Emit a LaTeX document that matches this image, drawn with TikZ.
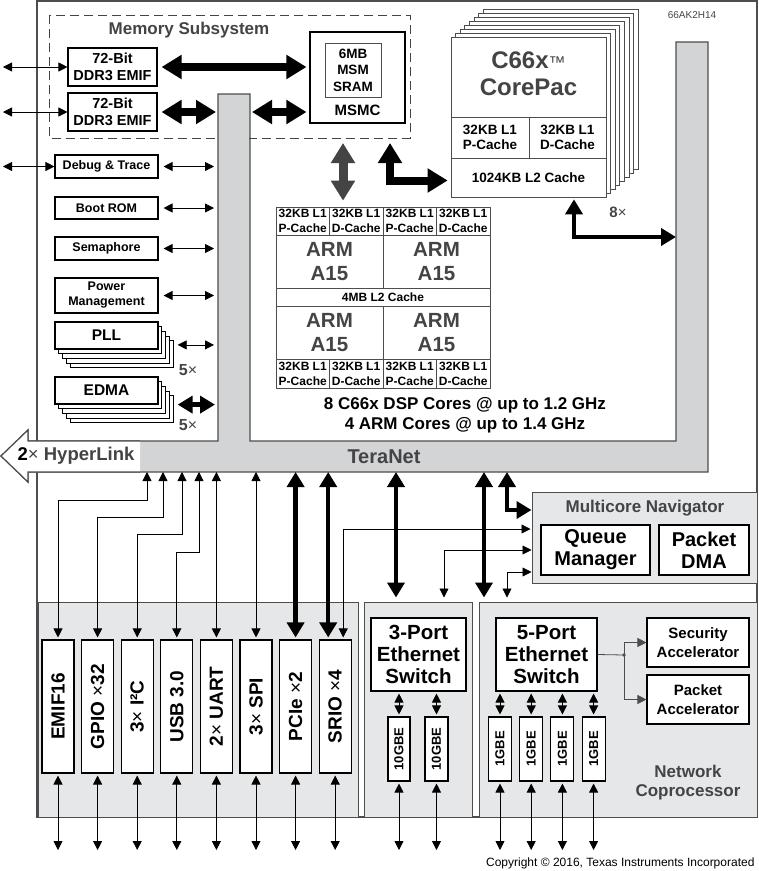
\documentclass[tikz,border=0pt]{standalone}
\usepackage{fontspec}
\setmainfont{Liberation Sans}
\usetikzlibrary{arrows.meta,positioning}
\definecolor{tigray}{HTML}{444444}
\definecolor{edgegray}{HTML}{4D4D4D}
\definecolor{busgray}{HTML}{D3D4D6}
\definecolor{panelgray}{HTML}{E6E7E8}
\newcommand{\tifont}[2]{\fontsize{#1}{#2}\selectfont\bfseries}
\newcommand{\tix}{{\mdseries ×}}
\tikzset{
  blk/.style={draw=black, line width=1.1pt, fill=white, align=center, inner sep=0pt},
  cell/.style={draw=edgegray, line width=0.7pt, fill=white, align=center, inner sep=0pt},
  stackbox/.style={draw=edgegray, line width=0.7pt, fill=white, inner sep=0pt},
  panel/.style={draw=edgegray, line width=1pt, fill=panelgray, inner sep=0pt},
  sig/.style={line width=0.8pt, >={Triangle[length=9pt,width=9pt]}},
  bus/.style={line width=4.5pt, >={Triangle[length=15pt,width=17pt]}},
  fatbus/.style={line width=8pt, >={Triangle[length=20pt,width=23pt]}},
}

\begin{document}
\begin{tikzpicture}[x=1pt, y=-1pt]
  \useasboundingbox (0,0) rectangle (759,871);
  \fill[white] (0,0) rectangle (759,871);
  % chip
  \draw[edgegray, line width=1.5pt, fill=white] (37,1) rectangle (757,817);
  \node[font=\fontsize{10}{12}\selectfont, text=tigray] (partno) at (692,15) {66AK2H14};
  \coordinate (barLw) at (218,94);
  \coordinate (barLe) at (250,94);
  \coordinate (barRw) at (676,42);
  \coordinate (busS) at (0,472);
  \coordinate (pinrow) at (0,850);

  % TeraNet + HyperLink
  \path[fill=busgray, draw=edgegray, line width=1.2pt] (1,456) -- (28,430) -- (28,441) -- (218,441) -- (218,94) -- (250,94) -- (250,441) -- (676,441) -- (676,42) -- (708,42) -- (708,472) -- (28,472) -- (28,482) -- cycle;
  \fill[white] (1,456) -- (28,430) -- (28,441) -- (140,441) -- (140,472) -- (28,472) -- (28,482) -- cycle;
  \draw[edgegray, line width=1.2pt] (140,441) -- (28,441) -- (28,430) -- (1,456) -- (28,482) -- (28,472) -- (140,472);
  \node[font=\tifont{18.5}{20}, text=tigray] (hyper) at (76,456) {{\color{black}2}\tix\ HyperLink};
  \node[font=\tifont{20}{22}, text=tigray] (teranet) at (384,457) {TeraNet};

  % Memory Subsystem
  \draw[tigray, line width=1pt, dash pattern=on 9pt off 5pt] (49,15) rectangle (410,138);
  \fill[busgray] (218.6,130) rectangle (249.4,146);
  \node[font=\tifont{17}{20}, text=tigray] (memt) at (189,30) {Memory Subsystem};
  \node[blk, font=\tifont{14.5}{17}, minimum width=89pt, minimum height=38pt] (ddra) at (112.5,67) {72-Bit\\DDR3 EMIF};
  \node[blk, font=\tifont{14.5}{17}, minimum width=89pt, minimum height=38pt] (ddrb) at (112.5,112) {72-Bit\\DDR3 EMIF};
  \node[blk, minimum width=95pt, minimum height=91pt] (msmc) at (357.5,77.5) {};
  \node[cell, font=\tifont{13.5}{16.5}, minimum width=56pt, minimum height=54pt] (sram) at (353,70) {6MB\\MSM\\SRAM};
  \node[font=\tifont{15}{18}] (msmct) at (357.5,110) {MSMC};
  \coordinate (ddrapin) at (3,67);
  \coordinate (ddrbpin) at (3,112);
  \draw[sig,<->] (ddrapin) -- (ddra.west);
  \draw[sig,<->] (ddrbpin) -- (ddrb.west);
  \draw[fatbus,<->] ([xshift=4pt]ddra.east) -- ([xshift=-3pt]ddra.east -| msmc.west);
  \draw[fatbus,<->] ([xshift=4pt]ddrb.east) -- ([xshift=-2pt]ddrb.east -| barLw);
  \draw[fatbus,<->] ([xshift=2pt]ddrb.east -| barLe) -- ([xshift=-3pt]ddrb.east -| msmc.west);

  % left column
  \node[blk, font=\tifont{12.5}{15}, minimum width=103pt, minimum height=23pt] (dbg) at (106.5,166.5) {Debug \& Trace};
  \node[blk, font=\tifont{12.5}{15}, minimum width=103pt, minimum height=22pt] (boot) at (106.5,208) {Boot ROM};
  \node[blk, font=\tifont{12.5}{15}, minimum width=103pt, minimum height=23pt] (sema) at (106.5,248.5) {Semaphore};
  \node[blk, font=\tifont{12.5}{15}, minimum width=103pt, minimum height=35pt] (pwr) at (106.5,295.5) {Power\\Management};
  \foreach \k in {4,3,2,1} {
    \node[stackbox, draw=black, line width=0.9pt, minimum width=103pt, minimum height=27pt] (pll\k) at ({106.5+3.8*\k},{335.5+4.7*\k}) {};
    \node[stackbox, draw=black, line width=0.9pt, minimum width=103pt, minimum height=27pt] (edma\k) at ({106.5+3.8*\k},{390.5+4.7*\k}) {};
  }
  \node[blk, font=\tifont{15.5}{18}, minimum width=103pt, minimum height=27pt] (pll) at (106.5,335.5) {PLL};
  \node[blk, font=\tifont{15.5}{18}, minimum width=103pt, minimum height=27pt] (edma) at (106.5,390.5) {EDMA};
  \node[font=\tifont{16}{17}, text=tigray] (pllx) at (188,370) {5\tix};
  \node[font=\tifont{16}{17}, text=tigray] (edmax) at (188,425) {5\tix};
  \coordinate (dbgpin) at (3,166.5);
  \draw[sig,<->] (dbgpin) -- (dbg.west);
  \foreach \nm in {dbg,boot,sema,pwr}
    \draw[sig,<->] ([xshift=5pt]\nm.east) -- ([xshift=-4pt]\nm.east -| barLw);
  \draw[sig,<->] ([xshift=4pt]pll4.east |- pll2.east) -- ([xshift=-4pt]pll2.east -| barLw);
  \draw[bus,<->] ([xshift=4pt]edma4.east |- edma3.east) -- ([xshift=-3pt]edma3.east -| barLw);

  % C66x CorePac stack
  \foreach \k in {7,6,...,1}
    \node[stackbox, minimum width=155pt, minimum height=160pt] (core\k) at ({528.5+4.6*\k},{117-3.9*\k}) {};
  \node[cell, line width=0.9pt, minimum width=155pt, minimum height=160pt] (core) at (528.5,117) {};
  \node[font=\tifont{24}{27}, text=tigray, align=center] (coret) at (528.5,74) {C66x{\mdseries\fontsize{17}{17}\selectfont ™}\\CorePac};
  \node[cell, font=\tifont{13.5}{15}, minimum width=78pt, minimum height=41pt] (cl1p) at (490,137.5) {32KB L1\\P-Cache};
  \node[cell, font=\tifont{13.5}{15}, minimum width=77pt, minimum height=41pt] (cl1d) at (567.5,137.5) {32KB L1\\D-Cache};
  \node[cell, font=\tifont{13.5}{15}, minimum width=155pt, minimum height=39pt] (cl2) at (528.5,177.5) {1024KB L2 Cache};
  \node[font=\tifont{15}{16}, text=tigray] (corex) at (618,212) {8\tix};
  \draw[bus,<->, shorten <=2pt] ([xshift=45.5pt]cl2.south) |- (barRw |- 0,237);

  % ARM A15 cluster
  \foreach \i/\t in {0/P,1/D,2/P,3/D} {
    \node[cell, font=\tifont{12}{15}, minimum width=53.5pt, minimum height=28pt] (armt\i) at ({302.75+53.5*\i},221) {32KB L1\\\t-Cache};
    \node[cell, font=\tifont{12}{15}, minimum width=53.5pt, minimum height=29pt] (armb\i) at ({302.75+53.5*\i},373.5) {32KB L1\\\t-Cache};
  }
  \node[cell, font=\tifont{20.5}{24}, text=tigray, minimum width=107pt, minimum height=53pt] (arm1) at (329.5,261.5) {ARM\\A15};
  \node[cell, font=\tifont{20.5}{24}, text=tigray, minimum width=107pt, minimum height=53pt] (arm2) at (436.5,261.5) {ARM\\A15};
  \node[cell, font=\tifont{12}{14}, minimum width=214pt, minimum height=18pt] (arml2) at (383,297) {4MB L2 Cache};
  \node[cell, font=\tifont{20.5}{24}, text=tigray, minimum width=107pt, minimum height=53pt] (arm3) at (329.5,332.5) {ARM\\A15};
  \node[cell, font=\tifont{20.5}{24}, text=tigray, minimum width=107pt, minimum height=53pt] (arm4) at (436.5,332.5) {ARM\\A15};
  \node[font=\tifont{17}{20}, align=center] (cores) at (465,415) {8 C66x DSP Cores @ up to 1.2 GHz\\4 ARM Cores @ up to 1.4 GHz};
  \coordinate (msmcarm) at (343,143);
  \coordinate (msmccore) at (390,143);
  \draw[fatbus,<->, draw=tigray, line width=9pt, shorten >=6pt] (msmcarm) -- (msmcarm |- armt0.north);
  \draw[fatbus,<->] (msmccore) |- ([shift={(-3,3)}]cl2.west);

  % bottom panels
  \node[panel, minimum width=320pt, minimum height=215pt] (perp) at (198,709.5) {};
  \node[panel, minimum width=108pt, minimum height=215pt] (tp) at (418,709.5) {};
  \node[panel, minimum width=278pt, minimum height=215pt] (ncp) at (618,709.5) {};
  \node[panel, minimum width=225pt, minimum height=91pt] (mcn) at (644.5,537.5) {};
  \node[font=\tifont{17}{20}, text=tigray] (mcnt) at (645,508) {Multicore Navigator};
  \node[blk, font=\tifont{20}{22}, minimum width=109pt, minimum height=50pt] (qm) at (595.5,550) {Queue\\Manager};
  \node[blk, font=\tifont{20}{22}, minimum width=90pt, minimum height=50pt] (pdma) at (704,550) {Packet\\DMA};

  % peripherals
  \foreach \nm/\txt [count=\i from 0] in {emif/EMIF16, gpio/GPIO \tix32, iic/3\tix\ I²C, usb/USB 3.0, uart/2\tix\ UART, spi/3\tix\ SPI, pcie/PCIe \tix2, srio/SRIO \tix4}
    \node[blk, font=\tifont{19}{22}, minimum width=32pt, minimum height=133pt] (\nm) at ({58+39.6*\i},706.5) {\rotatebox{90}{\txt}};
  \draw[sig,<->, shorten >=2pt] (147,0 |- busS) -- (147,500) -| (emif.north);
  \draw[sig,<->, shorten >=2pt] (163,0 |- busS) -- (163,517) -| (gpio.north);
  \draw[sig,<->, shorten >=2pt] (182,0 |- busS) -- (182,534) -| (iic.north);
  \draw[sig,<->, shorten >=2pt] (199,0 |- busS) -- (199,552) -| (usb.north);
  \draw[sig,<->, shorten >=2pt] (uart.north |- busS) -- (uart.north);
  \draw[sig,<->, shorten >=2pt] (spi.north |- busS) -- (spi.north);
  \draw[bus,<->, shorten >=2pt] (pcie.north |- busS) -- (pcie.north);
  \draw[bus,<->, shorten >=2pt] ([xshift=-7pt]srio.north |- busS) -- ([xshift=-7pt]srio.north);
  \draw[sig,<->, shorten <=2pt, shorten >=1pt] ([xshift=8pt]srio.north) |- (mcn.west |- 0,529);

  % Ethernet switches
  \node[blk, font=\tifont{20.5}{22}, minimum width=95pt, minimum height=73pt] (sw3) at (418.5,654.5) {3-Port\\Ethernet\\Switch};
  \node[blk, font=\tifont{13}{15}, minimum width=22pt, minimum height=64pt] (g10a) at (399,749) {\rotatebox{90}{10GBE}};
  \node[blk, font=\tifont{13}{15}, minimum width=23pt, minimum height=64pt] (g10b) at (436.5,749) {\rotatebox{90}{10GBE}};
  \node[blk, font=\tifont{20.5}{22}, minimum width=101pt, minimum height=73pt] (sw5) at (546.5,654.5) {5-Port\\Ethernet\\Switch};
  \foreach \nm [count=\i from 0] in {ga,gb,gc,gd}
    \node[blk, font=\tifont{13}{15}, minimum width=23pt, minimum height=64pt] (\nm) at ({500+31.2*\i},749) {\rotatebox{90}{1GBE}};
  \node[blk, font=\tifont{15}{19}, minimum width=102pt, minimum height=49pt] (sa) at (698,642.5) {Security\\Accelerator};
  \node[blk, font=\tifont{15}{19}, minimum width=102pt, minimum height=49pt] (pa) at (698,699.5) {Packet\\Accelerator};
  \node[font=\tifont{17}{19}, text=tigray, align=center] (ncpt) at (688,782.5) {Network\\Coprocessor};
  \foreach \nm in {g10a,g10b}
    \draw[sig,<->, shorten <=2pt, shorten >=2pt] (\nm.north |- sw3.south) -- (\nm.north);
  \foreach \nm in {ga,gb,gc,gd}
    \draw[sig,<->, shorten <=2pt, shorten >=2pt] (\nm.north |- sw5.south) -- (\nm.north);
  \coordinate (accsplit) at (624,655);
  \draw[sig, edgegray] (sw5.east) -- (accsplit);
  \fill[edgegray] (accsplit) circle (1.8pt);
  \draw[sig,->, edgegray] (accsplit) |- (sa.west);
  \draw[sig,->, edgegray] (accsplit) |- (pa.west);

  % TeraNet / Multicore Navigator links
  \draw[bus,<->, shorten >=4pt] (396,0 |- busS) -- (396,0 |- tp.north);
  \draw[bus,<->, shorten >=4pt] (484,0 |- busS) -- (484,0 |- ncp.north);
  \draw[bus,<->] (507,0 |- busS) |- (mcn.west |- 0,510);
  \draw[sig,<->, shorten >=4pt] (mcn.west |- 0,550) -| ([xshift=26pt]tp.north);
  \draw[sig,<->, shorten >=4pt] (mcn.west |- 0,572) -| (507,0 |- ncp.north);

  % pins
  \foreach \nm in {emif,gpio,iic,usb,uart,spi,pcie,srio,g10a,g10b,ga,gb,gc,gd}
    \draw[sig,<->] ([yshift=-2pt]\nm.south) -- (\nm.south |- pinrow);
  \node[anchor=east, font=\fontsize{12}{14}\selectfont] (copyr) at (758,863) {Copyright © 2016, Texas Instruments Incorporated};
\end{tikzpicture}
\end{document}
